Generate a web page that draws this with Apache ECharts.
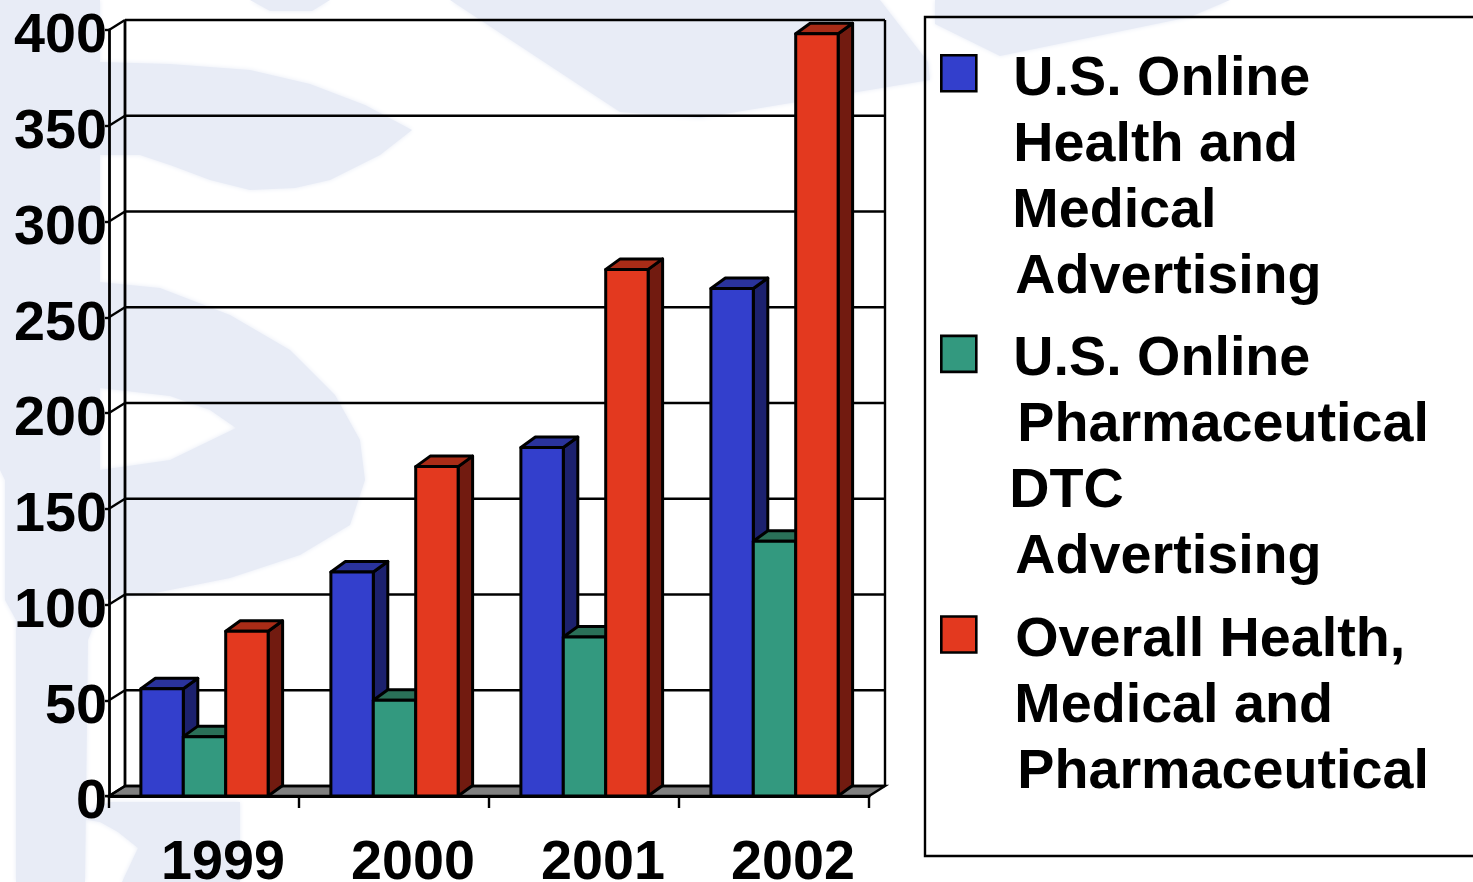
<!DOCTYPE html>
<html><head><meta charset="utf-8">
<style>html,body{margin:0;padding:0;background:#fff}#c{width:1473px;height:882px}</style>
<script src="https://cdn.jsdelivr.net/npm/echarts@6/dist/echarts.min.js"></script>
</head><body><div id="c"></div>
<script>
const years = ['1999','2000','2001','2002'];
const yTicks = [0,50,100,150,200,250,300,350,400];
const healthMedical = [56,117,182,265];
const pharmaDTC = [31,50,83,133];
const overall = [86,172,275,398];
const seriesNames = ['U.S. Online Health and Medical Advertising','U.S. Online Pharmaceutical DTC Advertising','Overall Health, Medical and Pharmaceutical'];
const legendLines = [
  ['U.S. Online','Health and','Medical','Advertising'],
  ['U.S. Online','Pharmaceutical','DTC','Advertising'],
  ['Overall Health,','Medical and','Pharmaceutical',' ']
];
const legendIndents = [[32,32,31,34],[32,36,28,34],[34,33,36,0]];
const palette = [
  {front:'#333fcc',top:'#2a339c',side:'#1c216e'},
  {front:'#33997f',top:'#2a7058',side:'#1f5a46'},
  {front:'#e3391f',top:'#a92c17',side:'#721b10'}
];
const DX=14.5, DY=-10.5, BARW=42.5/190.4;
const FONT='"Liberation Sans", Arial, sans-serif';
const ink='#000';
const FS=55.7;

function barSeries(i,values){
  return {
    type:'custom', name:seriesNames[i], coordinateSystem:'cartesian2d', clip:false, silent:true,
    itemStyle:{color:palette[i].front,borderColor:ink,borderWidth:2.5},
    data:values.map((v,k)=>[k,v]),
    encode:{x:0,y:1},
    renderItem(params,api){
      const band=api.size([1,0])[0], w=band*BARW;
      const c=api.coord([api.value(0),api.value(1)]), b=api.coord([api.value(0),0]);
      const x0=c[0]+(i-1)*w-w/2+0.5, x1=x0+w, yt=c[1], yb=b[1];
      const st=f=>({fill:f,stroke:ink,lineWidth:3,lineJoin:'round'});
      return {type:'group',children:[
        {type:'polygon',shape:{points:[[x1,yt],[x1+DX,yt+DY],[x1+DX,yb+DY],[x1,yb]]},style:st(palette[i].side)},
        {type:'polygon',shape:{points:[[x0,yt],[x0+DX,yt+DY],[x1+DX,yt+DY],[x1,yt]]},style:st(palette[i].top)},
        {type:'rect',shape:{x:x0,y:yt,width:w,height:yb-yt},style:st(palette[i].front)}
      ]};
    }
  };
}
const frameSeries={
  type:'custom', name:'frame', coordinateSystem:'cartesian2d', clip:false, silent:true, z:1,
  data:yTicks.map(v=>[0,v]), encode:{x:0,y:1},
  renderItem(params,api){
    const cs=params.coordSys, v=api.value(1), y=api.coord([0,v])[1];
    const L=cs.x, R=cs.x+cs.width, BX=16, BY=-10;
    const line=(a,b,c,d,lw)=>({type:'line',shape:{x1:a,y1:b,x2:c,y2:d},style:{stroke:ink,lineWidth:lw||2.4}});
    const kids=[line(L,y,L+BX,y+BY),line(L+BX,y+BY,R+BX,y+BY)];
    if(v===0){
      kids.unshift({type:'polygon',shape:{points:[[L,y],[L+BX,y+BY],[R+BX,y+BY],[R,y]]},style:{fill:'#808080',stroke:ink,lineWidth:2.4}});
      kids.push(line(L+BX,y+BY,L+BX,cs.y+BY,2.8),line(R+BX,y+BY,R+BX,cs.y+BY,2.4));
    }
    return {type:'group',children:kids};
  }
};
const rich={};
legendIndents.forEach((row,i)=>row.forEach((p,j)=>{
  rich['t'+i+j]={fontFamily:FONT,fontWeight:'bold',fontSize:FS,lineHeight:66,color:ink,padding:[0,0,0,p]};
}));
const wm='#e8ecf6';
const wmShapes=[
  [[0,0],[100,0],[100,610],[88,640],[85,882],[16,882],[16,620],[5,600],[5,480],[0,470]],
  [[100,62],[170,64],[250,70],[310,84],[365,105],[412,130],[380,155],[330,180],[295,188],[250,190],[210,180],[170,165],[140,155],[100,155]],
  [[100,282],[160,288],[230,315],[290,350],[335,395],[360,440],[365,480],[350,525],[300,555],[230,578],[160,592],[100,600],[100,470],[170,460],[236,428],[210,410],[170,396],[100,388]],
  [[75,818],[110,802],[240,802],[240,882],[122,882],[138,848],[118,832],[100,822]],
  [[250,0],[330,0],[312,11],[270,11]],
  [[450,0],[880,0],[928,62],[930,80],[700,118],[620,112]],
  [[935,0],[1230,0],[1190,17],[1000,56],[935,24]]
];
const chart=echarts.init(document.getElementById('c'),null,{renderer:'canvas'});
chart.setOption({
  animation:false, backgroundColor:'#fff',
  grid:{left:109,top:30,width:760,height:766,containLabel:false,outerBoundsMode:'none'},
  xAxis:{type:'category',data:years,
    axisLine:{lineStyle:{color:ink,width:3}},
    axisTick:{show:true,length:12,lineStyle:{color:ink,width:2.4}},
    axisLabel:{color:ink,fontFamily:FONT,fontWeight:'bold',fontSize:FS,margin:40,padding:[0,0,0,38],interval:0,hideOverlap:false}},
  yAxis:{type:'value',min:0,max:400,interval:50,
    axisLine:{show:true,lineStyle:{color:ink,width:2.8}},
    axisTick:{show:true,length:4,lineStyle:{color:ink,width:2.4}},
    splitLine:{show:false},
    axisLabel:{color:ink,fontFamily:FONT,fontWeight:'bold',fontSize:FS,margin:2,verticalAlign:'top',lineHeight:14}},
  legend:{orient:'vertical',left:940,top:45,padding:0,itemWidth:35,itemHeight:264,itemGap:14,selectedMode:false,
    itemStyle:{borderColor:ink,borderWidth:2.6},
    data:seriesNames.map(n=>({name:n,icon:'path://M0 0L0 0M0 264L0 264M0 9H35V45H0Z'})),
    formatter:n=>{const i=seriesNames.indexOf(n);return legendLines[i].map((s,j)=>`{t${i}${j}|${s}}`).join('\n');},
    textStyle:{rich,fontFamily:FONT,fontWeight:'bold',fontSize:FS,lineHeight:66,color:ink}},
  graphic:[
    ...wmShapes.map(p=>({type:'polygon',z:-10,silent:true,shape:{points:p,smooth:0},style:{fill:wm,shadowColor:wm,shadowBlur:5}})),
    {type:'rect',z:-5,silent:true,shape:{x:925,y:17,width:600,height:839},style:{fill:'none',stroke:ink,lineWidth:2.4}}
  ],
  series:[frameSeries,barSeries(0,healthMedical),barSeries(1,pharmaDTC),barSeries(2,overall)]
});
</script></body></html>
